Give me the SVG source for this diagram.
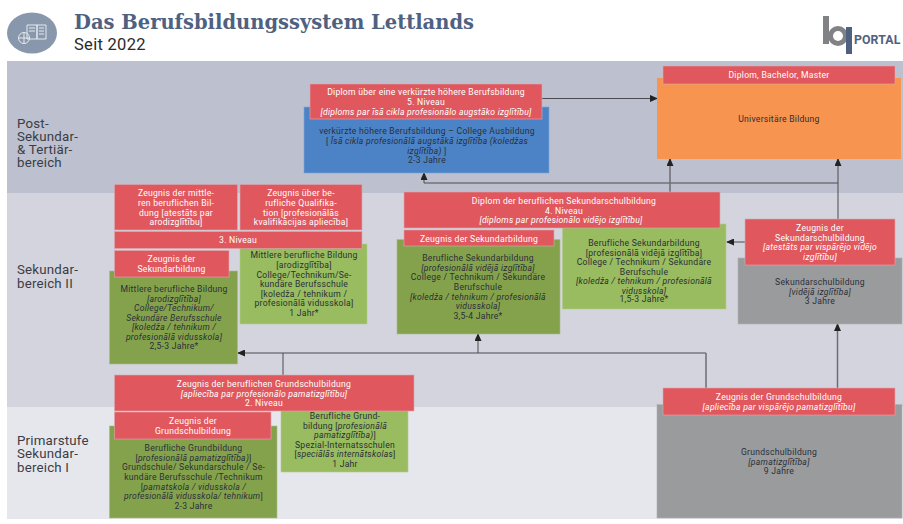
<svg xmlns="http://www.w3.org/2000/svg" width="903" height="524" viewBox="0 0 903 524">
<style>
text{font-family:Roboto,"Liberation Sans",sans-serif;font-size:8.6px;letter-spacing:.26px;text-anchor:middle;fill:#2b2f38}
.w text,text.w{fill:#fff}
.i{font-style:italic}
.lab{font-size:13.3px;letter-spacing:.2px;text-anchor:start;fill:#3a3d45}
.red{fill:#e0585e;stroke:#d9a9b0;stroke-width:.6}
.dg{fill:#84a24c;stroke:#a9bd86;stroke-width:.6}
.lg{fill:#98bc5f;stroke:#b3cd8b;stroke-width:.6}
.gr{fill:#9a9b9d;stroke:#b0b1b6;stroke-width:.6}
.con{fill:none;stroke:#4a4a50;stroke-width:1}
.con2{fill:none;stroke:#6d6d74;stroke-width:1.5}
</style>
<defs>
<marker id="a" markerWidth="8" markerHeight="7" refX="7" refY="3.5" orient="auto" markerUnits="userSpaceOnUse"><path d="M0 0L8 3.5L0 7z" fill="#222"/></marker>
</defs>
<rect width="903" height="524" fill="#fff"/>
<g id="header">
<ellipse cx="32" cy="33" rx="25" ry="20.500" fill="#8897ab"/>
<g fill="none" stroke="#e6eaf0" stroke-width="1">
<path d="M27 25h10v14h-10zM37 25h9v14h-9z"/>
<path d="M39 28h5M39 31h5M39 34h5M29 28h6M29 31h6"/>
<circle cx="24" cy="38" r="5.500"/><path d="M18.500 38h11M24 32.500v11"/>
</g>
<text x="74" y="29" style="font-family:'DejaVu Serif',serif;font-weight:700;font-size:19.500px;letter-spacing:0;text-anchor:start;fill:#4f6180" textLength="400" lengthAdjust="spacingAndGlyphs">Das Berufsbildungssystem Lettlands</text>
<text x="74" y="50" style="font-size:16.500px;letter-spacing:.3px;text-anchor:start;fill:#2a2a2a">Seit 2022</text>
</g>
<g id="logo">
<path d="M826 16v28" stroke="#808285" stroke-width="6" fill="none"/>
<circle cx="838" cy="36" r="7.500" fill="none" stroke="#808285" stroke-width="5"/>
<path d="M849 27v27" stroke="#4f6180" stroke-width="6" fill="none"/>
<text x="854" y="44" style="font-size:12.300px;font-weight:700;letter-spacing:.1px;text-anchor:start;fill:#4f6180">PORTAL</text>
</g>
<g id="bands">
<rect x="7" y="61" width="896" height="132" fill="#bdc0ce"/>
<rect x="7" y="193" width="896" height="214" fill="#d3d4de"/>
<rect x="7" y="407" width="896" height="112" fill="#e6e7ed"/>
<text class="lab" x="17" y="128">Post-<tspan x="17" dy="13">Sekundar-</tspan><tspan x="17" dy="13">&amp; Tertiär-</tspan><tspan x="17" dy="13">bereich</tspan></text>
<text class="lab" x="17" y="274">Sekundar-<tspan x="17" dy="14">bereich II</tspan></text>
<text class="lab" x="17" y="445">Primarstufe<tspan x="17" dy="13">Sekundar-</tspan><tspan x="17" dy="14">bereich I</tspan></text>
</g>
<g id="connectors">
<path class="con" d="M541 98.500H657" marker-end="url(#a)"/>
<path class="con" d="M838 183H424V173" marker-end="url(#a)"/>
<path class="con2" d="M670 192V159" marker-end="url(#a)"/>
<path class="con" d="M838 219V159" marker-end="url(#a)"/>
<path class="con" d="M745 242H727" marker-end="url(#a)"/>
<path class="con2" d="M837.500 388V324" marker-end="url(#a)"/>
<path class="con" d="M706 353H238" marker-end="url(#a)"/>
<path class="con2" d="M706 388V353"/>
<path class="con" d="M283 375V353"/>
<path class="con" d="M478 353V334" marker-end="url(#a)"/>
</g>
<g id="n-college">
<rect x="304" y="107" width="245" height="66" fill="#4b83c6" stroke="#7fa3d2" stroke-width=".6"/>
<text x="427" y="134">verkürzte höhere Berufsbildung – College Ausbildung</text>
<text x="427" y="144">[ <tspan class="i">Īsā cikla profesionālā augstākā izglītība (koledžas</tspan></text>
<text x="427" y="153.500"><tspan class="i">izglītība)</tspan> ]</text>
<text x="427" y="163">2-3 Jahre</text>
</g>
<g id="n-diplom5" class="w">
<rect class="red" x="310" y="84" width="232" height="35"/>
<text x="426" y="95">Diplom über eine verkürzte höhere Berufsbildung</text>
<text x="426" y="105">5. Niveau</text>
<text class="i" x="426" y="114.500">[diploms par īsā cikla profesionālo augstāko izglītību]</text>
</g>
<g id="n-uni">
<rect x="657" y="78" width="244" height="81" fill="#f7944f"/>
<text x="779" y="122">Universitäre Bildung</text>
</g>
<g id="n-uni-dipl" class="w">
<rect class="red" x="663" y="66" width="232" height="18"/>
<text x="779" y="78">Diplom, Bachelor, Master</text>
</g>
<g id="n-mittlere-dg">
<rect class="dg" x="109.500" y="271" width="128" height="93"/>
<text x="174" y="292">Mittlere berufliche Bildung</text>
<text class="i" x="174" y="301.500">[arodizglītība]</text>
<text class="i" x="174" y="311">College/Technikum/</text>
<text class="i" x="174" y="320.500">Sekundäre Berufsschule</text>
<text class="i" x="174" y="330">[koledža / tehnikum /</text>
<text class="i" x="174" y="339.500">profesionālā vidusskola]</text>
<text x="174" y="349">2,5-3 Jahre*</text>
</g>
<g id="n-zeug-mittl" class="w">
<rect class="red" x="114.500" y="184.500" width="123" height="45.500"/>
<text x="176" y="196">Zeugnis der mittle-</text>
<text x="176" y="206">ren beruflichen Bil-</text>
<text x="176" y="215.500">dung  [atestāts par</text>
<text x="176" y="225">arodizglītību]</text>
</g>
<g id="n-mittlere-lg">
<rect class="lg" x="240" y="244" width="127" height="80"/>
<text x="304" y="258">Mittlere berufliche Bildung</text>
<text x="304" y="268">[arodizglītība]</text>
<text x="304" y="277.500">College/Technikum/Se-</text>
<text x="304" y="287">kundäre Berufsschule</text>
<text x="304" y="296.500">[koledža / tehnikum /</text>
<text x="304" y="306">profesionālā vidusskola]</text>
<text x="304" y="315.500">1 Jahr*</text>
</g>
<g id="n-zeug-qual" class="w">
<rect class="red" x="240" y="184.500" width="122" height="45.500"/>
<text x="301" y="196">Zeugnis über be-</text>
<text x="301" y="206">rufliche Qualifika-</text>
<text x="301" y="215.500">tion [profesionālās</text>
<text x="301" y="225">kvalifikācijas apliecība]</text>
</g>
<g id="n-niveau3" class="w">
<rect class="red" x="114.500" y="231.500" width="247.500" height="17"/>
<text x="238" y="243">3. Niveau</text>
</g>
<g id="n-zeug-sek" class="w">
<rect class="red" x="114.500" y="250.500" width="114.500" height="26.500"/>
<text x="171.500" y="262">Zeugnis der</text>
<text x="171.500" y="271.500">Sekundarbildung</text>
</g>
<g id="n-bs-dg">
<rect class="dg" x="397" y="239.500" width="163" height="94.500"/>
<text x="478" y="261">Berufliche Sekundarbildung</text>
<text class="i" x="478" y="270.500">[profesionālā vidējā izglītība]</text>
<text x="478" y="280">College / Technikum / Sekundäre</text>
<text x="478" y="290">Berufschule</text>
<text class="i" x="478" y="299.500">[koledža / tehnikum / profesionālā</text>
<text class="i" x="478" y="309">vidusskola]</text>
<text x="478" y="318.500">3,5-4 Jahre*</text>
</g>
<g id="n-bs-lg">
<rect class="lg" x="562.500" y="224" width="163.500" height="85"/>
<text x="644" y="246">Berufliche Sekundarbildung</text>
<text x="644" y="255.500">[profesionālā vidējā izglītība]</text>
<text x="644" y="265">College / Technikum / Sekundäre</text>
<text x="644" y="274.500">Berufschule</text>
<text class="i" x="644" y="284">[koledža / tehnikum / profesionālā</text>
<text class="i" x="644" y="293.500">vidusskola]</text>
<text x="644" y="302">1,5-3 Jahre*</text>
</g>
<g id="n-diplom4" class="w">
<rect class="red" x="404" y="192" width="316" height="36"/>
<text x="564" y="204">Diplom der beruflichen Sekundarschulbildung</text>
<text x="564" y="213.500">4. Niveau</text>
<text class="i" x="561" y="222.500">[diploms par profesionālo vidējo izglītību]</text>
</g>
<g id="n-zeug-sek2" class="w">
<rect class="red" x="404" y="230" width="150" height="16"/>
<text x="479" y="241.500">Zeugnis der Sekundarbildung</text>
</g>
<g id="n-sek-gr">
<rect class="gr" x="738" y="258" width="164" height="66"/>
<text x="820" y="285">Sekundarschulbildung</text>
<text class="i" x="820" y="294.500">[vidējā izglītība]</text>
<text x="820" y="304">3 Jahre</text>
</g>
<g id="n-zeug-sekschul" class="w">
<rect class="red" x="745" y="219" width="150" height="46"/>
<text x="820" y="231">Zeugnis der</text>
<text x="820" y="240.500">Sekundarschulbildung</text>
<text class="i" x="820" y="250">[atestāts par vispārējo vidējo</text>
<text class="i" x="820" y="260">izglītību]</text>
</g>
<g id="n-grund-gr">
<rect class="gr" x="657" y="404.500" width="245" height="113.500"/>
<text x="779" y="455">Grundschulbildung</text>
<text class="i" x="779" y="464.500">[pamatizglītība]</text>
<text x="779" y="474">9 Jahre</text>
</g>
<g id="n-zeug-grund" class="w">
<rect class="red" x="663" y="388" width="232" height="27"/>
<text x="779" y="400">Zeugnis der Grundschulbildung</text>
<text class="i" x="779" y="409.500">[apliecība par vispārējo pamatizglītību]</text>
</g>
<g id="n-bg-dg">
<rect class="dg" x="109.500" y="426" width="167.500" height="92"/>
<text x="193.500" y="451">Berufliche Grundbildung</text>
<text x="193.500" y="461">[<tspan class="i">profesionālā pamatizglītība)</tspan>]</text>
<text x="193.500" y="470">Grundschule/ Sekundarschule / Se-</text>
<text x="193.500" y="480">kundäre Berufsschule /Technikum</text>
<text x="193.500" y="489.500">[<tspan class="i">pamatskola / vidusskola /</tspan></text>
<text x="193.500" y="499"><tspan class="i">profesionālā vidusskola/  tehnikum</tspan>]</text>
<text x="193.500" y="508.500">2-3 Jahre</text>
</g>
<g id="n-bg-lg">
<rect class="lg" x="281" y="408" width="127" height="64"/>
<text x="345" y="419">Berufliche Grund-</text>
<text x="345" y="428.500">bildung [<tspan class="i">profesionālā</tspan></text>
<text x="345" y="438"><tspan class="i">pamatizglītība)</tspan>]</text>
<text x="345" y="447.500">Spezial-Internatsschulen</text>
<text x="345" y="457">[<tspan class="i">speciālās internātskolas</tspan>]</text>
<text x="345" y="467">1 Jahr</text>
</g>
<g id="n-zeug-bgs" class="w">
<rect class="red" x="114.500" y="375" width="299.500" height="36"/>
<text x="264" y="387">Zeugnis der beruflichen Grundschulbildung</text>
<text class="i" x="264" y="396.500">[apliecība par profesionālo pamatizglītību]</text>
<text x="264" y="406">2. Niveau</text>
</g>
<g id="n-zeug-grund2" class="w">
<rect class="red" x="114.500" y="412" width="156.500" height="27"/>
<text x="193" y="424">Zeugnis der</text>
<text x="193" y="433.500">Grundschulbildung</text>
</g>
</svg>
